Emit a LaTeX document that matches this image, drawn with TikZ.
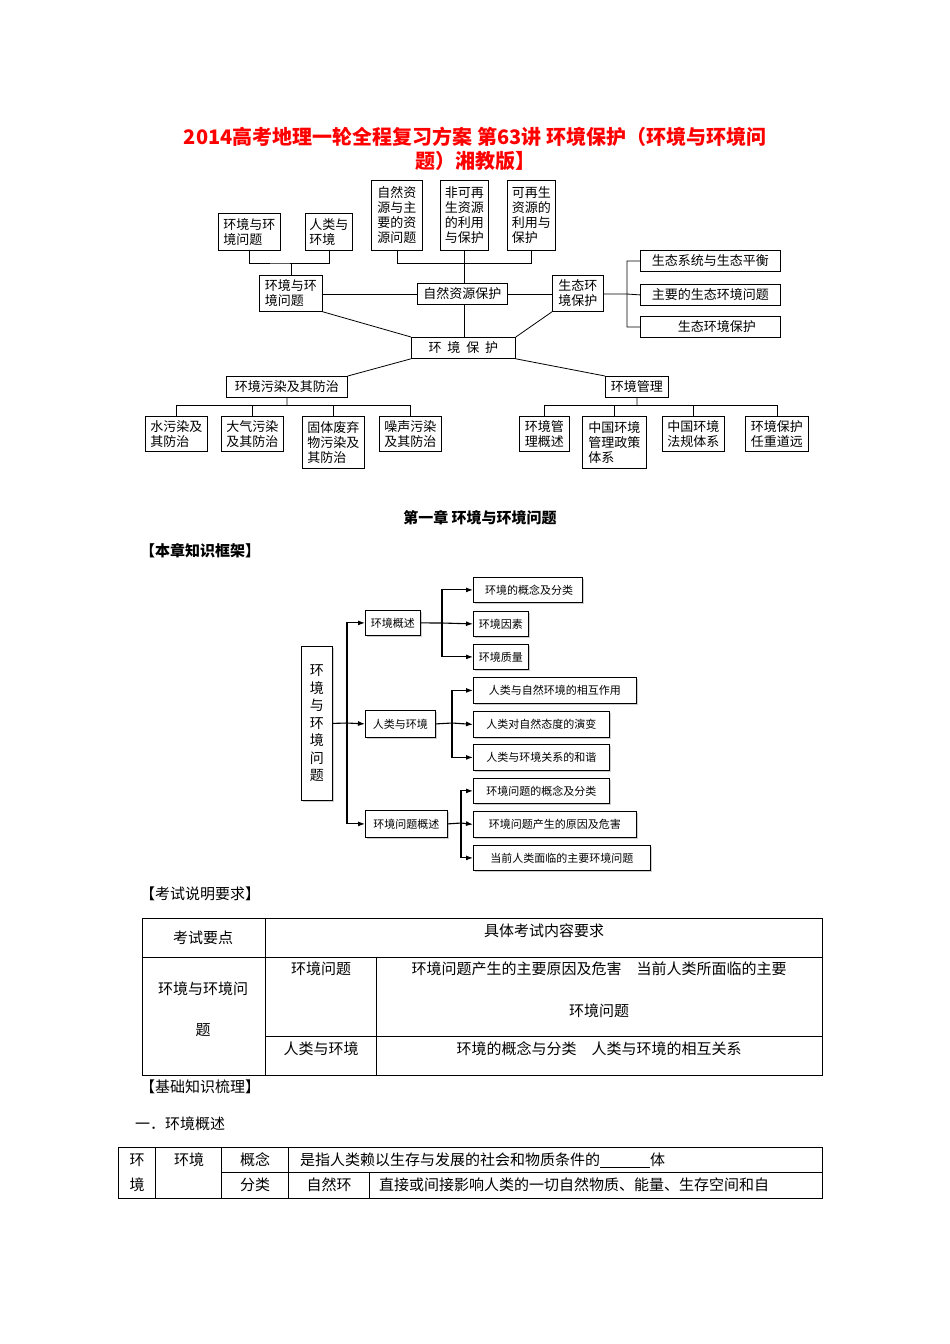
\documentclass[tikz,border=0pt]{standalone}
\usepackage{fontspec}
\setmainfont{Noto Sans CJK SC}
\usetikzlibrary{shadows,arrows.meta}
\begin{document}
\begin{tikzpicture}[x=1pt,y=-1pt,
  bx/.style={draw,line width=0.8pt,inner sep=0pt,font=\fontsize{13}{15}\selectfont,align=left},
  sb/.style={draw,line width=0.8pt,fill=white,inner sep=0pt,font=\fontsize{11}{13}\selectfont,drop shadow={shadow xshift=2pt,shadow yshift=-2pt,fill=gray!75}},
  ln/.style={line width=0.8pt},
  ar/.style={line width=1.1pt,-{Latex[length=7pt,width=5pt]}},
  tx/.style={font=\fontsize{15}{17}\selectfont,inner sep=0pt},
  bt/.style={font=\bfseries\fontsize{15}{17}\selectfont,inner sep=0pt},
  tb/.style={line width=0.6pt}]
\useasboundingbox (0,0) rectangle (950,1344);
\fill[white] (0,0) rectangle (950,1344);
% Title
\node[text=red,font=\bfseries\fontsize{20}{24}\selectfont,inner sep=0pt] (t1) at (475,137) {2014高考地理一轮全程复习方案 第63讲 环境保护（环境与环境问};
\node[text=red,font=\bfseries\fontsize{20}{24}\selectfont,inner sep=0pt] (t2) at (475,161) {题）湘教版】};
% ---- top diagram
\def\bxx#1#2#3#4#5#6{\node[bx,minimum width=#4-#2,minimum height=#5-#3,anchor=north west] (#1) at (#2,#3) {#6};}
\bxx{a1}{218}{213}{280}{250}{环境与环\\境问题}
\bxx{a2}{305}{213}{352}{250}{人类与\\环境}
\bxx{a3}{371}{180}{422}{250}{自然资\\源与主\\要的资\\源问题}
\bxx{a4}{440}{180}{488}{250}{非可再\\生资源\\的利用\\与保护}
\bxx{a5}{507}{180}{555}{250}{可再生\\资源的\\利用与\\保护}
\bxx{b1}{259}{275}{322}{311}{环境与环\\境问题}
\bxx{b2}{417}{283}{507}{304}{自然资源保护}
\bxx{b3}{552}{275}{603}{311}{生态环\\境保护}
\bxx{c1}{640}{250}{780}{271}{生态系统与生态平衡}
\bxx{c2}{640}{284}{780}{305}{主要的生态环境问题}
\bxx{c3}{640}{316}{780}{337}{\quad 生态环境保护}
\bxx{h}{411}{337}{515}{358}{环\ \ 境\ \ 保\ \ 护}
\bxx{d1}{226}{376}{347}{397}{环境污染及其防治}
\bxx{d2}{605}{376}{668}{397}{环境管理}
\bxx{e1}{145}{416}{207}{451}{水污染及\\其防治}
\bxx{e2}{221}{416}{283}{451}{大气污染\\及其防治}
\bxx{e3}{302}{416}{364}{468}{固体废弃\\物污染及\\其防治}
\bxx{e4}{379}{416}{441}{451}{噪声污染\\及其防治}
\bxx{f1}{519}{416}{569}{451}{环境管\\理概述}
\bxx{f2}{582}{416}{646}{468}{中国环境\\管理政策\\体系}
\bxx{f3}{662}{416}{724}{451}{中国环境\\法规体系}
\bxx{f4}{745}{416}{808}{451}{环境保护\\任重道远}
\draw[ln] (a1.south) |- (290,263) -| (b1.north);
\draw[ln] (a2.south) |- (290,263);
\draw[ln] (a3.south) |- (a5.south|-0,263) -- (a5.south);
\draw[ln] (a4.south) -- (a4.south|-b2.north);
\draw[ln] (a4.south|-b2.south) -- (a4.south|-h.north);
\draw[ln] (b1.east|-b2) -- (b2.west);
\draw[ln] (b2.east) -- (b3.west|-b2);
\draw[ln] (b1.south east) -- (h.north west);
\draw[ln] (b3.south west) -- (h.north east);
\draw[ln] (h.south west) -- (d1.north east);
\draw[ln] (h.south east) -- (d2.north west);
\draw[ln] (b3.east|-b2) -- (627,294);
\draw[ln] (c1.west) -| (627,327) -- (c3.west);
\draw[ln] (627,294) -- (c2.west);
\draw[ln] (d1.south) -- (287,405);
\draw[ln] (e1.north) |- (e4.north|-0,405) -- (e4.north);
\draw[ln] (e2.north) -- (e2.north|-0,405);
\draw[ln] (e3.north) -- (e3.north|-0,405);
\draw[ln] (d2.south) -- (637,405);
\draw[ln] (f1.north) |- (f4.north|-0,405) -- (f4.north);
\draw[ln] (f2.north) -- (f2.north|-0,405);
\draw[ln] (f3.north) -- (f3.north|-0,405);
% headings
\node[bt] (ch) at (480,518) {第一章\ 环境与环境问题};
\node[bt,anchor=west] (kj) at (140,551) {【本章知识框架】};
% ---- second diagram
\def\sbx#1#2#3#4#5#6{\node[sb,minimum width=#4-#2,minimum height=#5-#3,anchor=north west] (#1) at (#2,#3) {#6};}
\node[sb,minimum width=31,minimum height=154,anchor=north west,font=\fontsize{14}{17.5}\selectfont,align=center] (m) at (301,646) {环\\境\\与\\环\\境\\问\\题};
\sbx{g1}{365}{610}{420}{635}{环境概述}
\sbx{g2}{365}{710}{435}{737}{人类与环境}
\sbx{g3}{365}{810}{447}{837}{环境问题概述}
\sbx{k1}{473}{577}{582}{602}{\ 环境的概念及分类}
\sbx{k2}{473}{611}{528}{636}{环境因素}
\sbx{k3}{473}{644}{528}{669}{环境质量}
\sbx{k4}{473}{677}{636}{703}{人类与自然环境的相互作用}
\sbx{k5}{473}{711}{609}{737}{人类对自然态度的演变}
\sbx{k6}{473}{744}{609}{770}{人类与环境关系的和谐}
\sbx{k7}{473}{778}{609}{803}{环境问题的概念及分类}
\sbx{k8}{473}{811}{636}{837}{环境问题产生的原因及危害}
\sbx{k9}{473}{845}{650}{870}{当前人类面临的主要环境问题}
\draw[line width=1.1pt] (m.east) -- (347,723);
\draw[ar] (347,723) |- (g1.west);
\draw[ar] (347,723) -- (g2.west);
\draw[ar] (347,723) |- (g3.west);
\draw[line width=1.1pt] (g1.east) -- (442,623);
\draw[ar] (442,623) |- (k1.west);
\draw[ar] (442,623) -- (k2.west);
\draw[ar] (442,623) |- (k3.west);
\draw[line width=1.1pt] (g2.east) -- (452,723);
\draw[ar] (452,723) |- (k4.west);
\draw[ar] (452,723) -- (k5.west);
\draw[ar] (452,723) |- (k6.west);
\draw[line width=1.1pt] (g3.east) -- (461,823);
\draw[ar] (461,823) |- (k7.west);
\draw[ar] (461,823) -- (k8.west);
\draw[ar] (461,823) |- (k9.west);
% ---- table 1
\node[tx,anchor=west] (ks) at (140,894) {【考试说明要求】};
\draw[tb] (142,918) rectangle (822,1075);
\draw[tb] (142,957) -- (822,957);
\draw[tb] (265,1036) -- (822,1036);
\draw[tb] (265,918) -- (265,1075);
\draw[tb] (376,957) -- (376,1075);
\node[tx] (r1) at (203,938) {考试要点};
\node[tx] (r2) at (544,931) {具体考试内容要求};
\node[tx] (r3) at (203,989) {环境与环境问};
\node[tx] (r4) at (203,1030) {题};
\node[tx] (r5) at (321,969) {环境问题};
\node[tx] (r6) at (599,969) {环境问题产生的主要原因及危害\quad 当前人类所面临的主要};
\node[tx] (r7) at (599,1011) {环境问题};
\node[tx] (r8) at (321,1049) {人类与环境};
\node[tx] (r9) at (599,1049) {环境的概念与分类\quad 人类与环境的相互关系};
\node[tx,anchor=west] (jc) at (140,1087) {【基础知识梳理】};
\node[tx,anchor=west] (yi) at (135,1124) {一．环境概述};
% ---- table 2
\draw[tb] (118,1147) rectangle (822,1198);
\draw[tb] (221,1172) -- (822,1172);
\draw[tb] (155,1147) -- (155,1198);
\draw[tb] (221,1147) -- (221,1198);
\draw[tb] (288,1147) -- (288,1198);
\draw[tb] (369,1172) -- (369,1198);
\node[tx] (s1) at (137,1160) {环};
\node[tx] (s2) at (137,1185) {境};
\node[tx] (s3) at (189,1160) {环境};
\node[tx] (s4) at (255,1160) {概念};
\node[tx] (s5) at (255,1185) {分类};
\node[tx,anchor=west] (s6) at (300,1160) {是指人类赖以生存与发展的社会和物质条件的\rule[-2pt]{50pt}{0.5pt}体};
\node[tx] (s7) at (329,1185) {自然环};
\node[tx,anchor=west] (s8) at (379,1185) {直接或间接影响人类的一切自然物质、能量、生存空间和自};
\end{tikzpicture}
\end{document}
